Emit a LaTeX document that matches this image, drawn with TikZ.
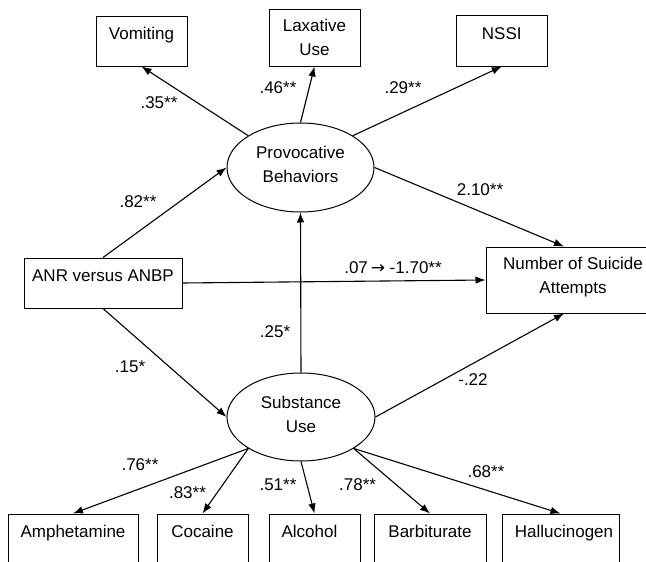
\documentclass[tikz,border=0pt]{standalone}
\usepackage{fontspec}
\setmainfont{Liberation Sans}
\newfontfamily\arrowfont{DejaVu Sans}
\usetikzlibrary{shapes.geometric,arrows.meta}
\begin{document}
\begin{tikzpicture}[x=1pt,y=-1pt,
  font=\fontsize{17}{24}\selectfont,
  box/.style={draw, rectangle, line width=1pt, inner sep=0pt},
  lat/.style={draw, ellipse, line width=1pt, inner sep=0pt, minimum width=147pt, minimum height=89pt, align=center},
  bot/.style={box, text height=23pt, text depth=38pt},
  arr/.style={-{Latex[length=10pt,width=7.5pt]}, line width=1.1pt},
  lbl/.style={inner sep=0pt}]
\useasboundingbox (0,0) rectangle (646,562);
\clip (0,0) rectangle (646,562);

% indicator boxes (top)
\node[box, minimum width=91pt, text height=23.3pt, text depth=26.7pt] (vom) at (141.5,41) {Vomiting};
\node[box, minimum width=91pt, minimum height=57pt, align=center] (lax) at (314.5,37.5) {Laxative\\Use};
\node[box, minimum width=90.5pt, text height=24.3pt, text depth=26.7pt] (nssi) at (501.75,40.5) {NSSI};

% latent variables
\node[lat] (prov) at (300.5,167.5) {Provocative\\Behaviors\rule[-6.6pt]{0pt}{6.6pt}};
\node[lat, minimum width=148pt, minimum height=88pt] (sub) at (301,417) {Substance\\Use\rule[-6pt]{0pt}{6pt}};

% observed
\node[box, minimum width=158pt, text height=23.7pt, text depth=26.3pt] (anr) at (103,283) {ANR versus ANBP};
\node[box, minimum width=174pt, minimum height=66pt, align=center] (sui) at (573,280) {Number of Suicide\\Attempts\rule[-9.3pt]{0pt}{9.3pt}};

% indicator boxes (bottom)
\node[bot, minimum width=130pt] (amph) at (73,544.5) {Amphetamine};
\node[bot, minimum width=91pt] (coc) at (202.5,544.5) {Cocaine};
\node[bot, minimum width=91pt] (alc) at (314.5,544.5) {\kern-10pt Alcohol};
\node[bot, minimum width=112pt] (barb) at (430,544.5) {Barbiturate};
\node[bot, minimum width=117pt] (hall) at (560.5,544.5) {\kern7pt Hallucinogen};

% connectors
\draw[arr] (prov.north west) -- (vom.south);
\draw[arr] (prov.north) -- (lax.south);
\draw[arr] (prov.north east) -- (nssi.south);
\draw[arr] (prov.east) -- ([xshift=-9pt]sui.north);
\draw[arr] (anr.north) -- (prov.west);
\draw[arr] (anr.east) -- (sui.west);
\draw[arr] (anr.south) -- (sub.west);
\draw[arr] (sub.north) -- (prov.south);
\draw[arr] (sub.east) -- ([xshift=-9pt]sui.south);
\draw[arr] (sub.south west) -- (amph.north);
\draw[arr] (sub.south west) -- (coc.north);
\draw[arr] (sub.south) -- (alc.north);
\draw[arr] (sub.south east) -- (barb.north);
\draw[arr] (sub.south east) -- (hall.north);

% coefficient labels
\node[lbl] (l35) at (159,103) {.35**};
\node[lbl] (l46) at (278,88) {.46**};
\node[lbl] (l29) at (403,88) {.29**};
\node[lbl] (l210) at (480,190) {2.10**};
\node[lbl] (l82) at (138,202) {.82**};
\node[lbl] (l07) at (393,268) {.07\,{\arrowfont →} -1.70**};
\node[lbl] (l25) at (275,332) {.25*};
\node[lbl] (l15) at (130,367) {.15*};
\node[lbl] (l22) at (473,380) {-.22};
\node[lbl] (l76) at (140,465) {.76**};
\node[lbl] (l83) at (187.5,493) {.83**};
\node[lbl] (l51) at (278,485) {.51**};
\node[lbl] (l78) at (357.6,485) {.78**};
\node[lbl] (l68) at (486,472) {.68**};
\end{tikzpicture}
\end{document}
